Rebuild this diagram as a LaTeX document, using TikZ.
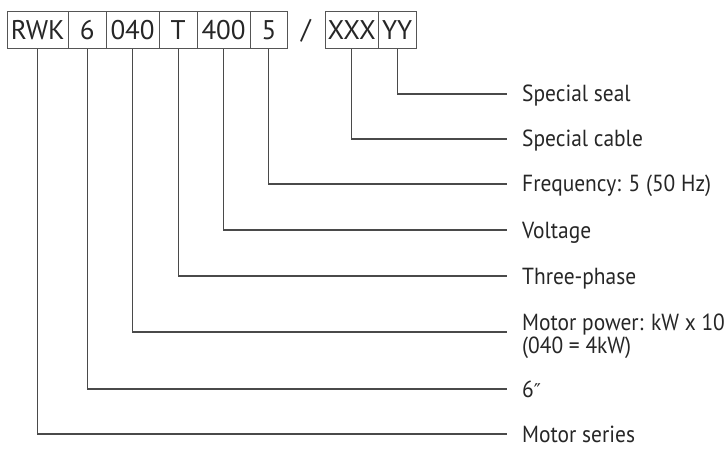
\documentclass[tikz,border=0pt]{standalone}
\usepackage{fontspec}
\setmainfont{PT Sans}
\newfontfamily\labfont[FakeStretch=0.92]{PT Sans}
\newfontfamily\symfont{DejaVu Sans}
\begin{document}
\begin{tikzpicture}[x=1pt,y=-1pt,
  codebox/.style={draw=boxgray,line width=1.1pt,minimum height=37.7pt,inner sep=0pt,
    font=\fontsize{27}{28}\selectfont,text=txt,anchor=center},
  lab/.style={anchor=base west,inner sep=0pt,font=\labfont\fontsize{23.3}{23}\selectfont,text=txt},
  conn/.style={draw=linegray,line width=1.1pt}]
\definecolor{boxgray}{HTML}{555555}
\definecolor{linegray}{HTML}{4A4A4A}
\definecolor{txt}{HTML}{262626}
\useasboundingbox (0,0) rectangle (728,449);
% code boxes
\node[codebox,minimum width=61pt] (rwk) at (37.7,30) {RWK};
\node[codebox,minimum width=37.7pt] (six) at (87.2,30) {6};
\node[codebox,minimum width=53pt] (pow) at (132.6,30) {040};
\node[codebox,minimum width=38pt] (tph) at (178.1,30) {T};
\node[codebox,minimum width=53pt] (volt) at (223.6,30) {400};
\node[codebox,minimum width=37.7pt] (freq) at (268.9,30) {5};
\node[font=\fontsize{27}{28}\selectfont,text=txt,inner sep=0pt] (slash) at (306,31) {/};
\node[codebox,minimum width=53.3pt] (cab) at (351.7,30) {XXX};
\node[codebox,minimum width=37.7pt] (seal) at (397.2,30) {YY};
% labels
\node[lab] (lseal) at (522,102) {Special seal};
\node[lab] (lcab) at (522,147) {Special cable};
\node[lab] (lfreq) at (522,192) {Frequency: 5 (50 Hz)};
\node[lab] (lvolt) at (522,238) {Voltage};
\node[lab] (ltph) at (522,284) {Three-phase};
\node[lab,align=left] (lpow) at (522,353) {Motor power: kW x 10\\(040 = 4kW)};
\node[lab] (lsix) at (522,397) {6{\symfont\fontsize{19}{20}\selectfont ″}};
\node[lab] (lrwk) at (522,442) {Motor series};
% line ends
\coordinate (eseal) at (507,94);
\coordinate (ecab) at (507,139);
\coordinate (efreq) at (507,184);
\coordinate (evolt) at (507,230);
\coordinate (etph) at (507,276);
\coordinate (epow) at (507,332);
\coordinate (esix) at (507,389);
\coordinate (erwk) at (507,434);
% connectors
\draw[conn] (seal.south) |- (eseal);
\draw[conn] (cab.south) |- (ecab);
\draw[conn] (freq.south) |- (efreq);
\draw[conn] (volt.south) |- (evolt);
\draw[conn] (tph.south) |- (etph);
\draw[conn] (pow.south) |- (epow);
\draw[conn] (six.south) |- (esix);
\draw[conn] (rwk.south) |- (erwk);
\end{tikzpicture}
\end{document}
